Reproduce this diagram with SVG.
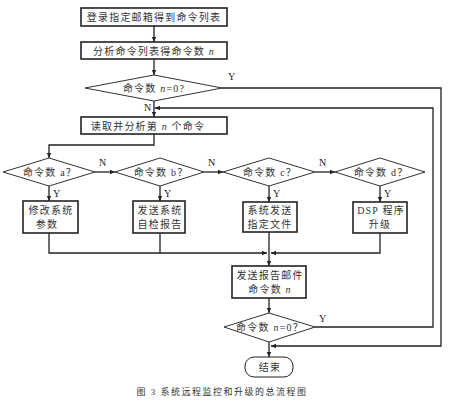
<svg xmlns="http://www.w3.org/2000/svg" width="454" height="402" viewBox="0 0 454 402">
<defs>
<marker id="ah" markerWidth="6" markerHeight="6" refX="5" refY="3" orient="auto" markerUnits="userSpaceOnUse">
<path d="M0,0.8 L5,3 L0,5.2 Z" fill="#222"/>
</marker>
<style>
.box{fill:#fff;stroke:#222;stroke-width:1.6}
.dia{fill:#fff;stroke:#333;stroke-width:1}
.ln{fill:none;stroke:#222;stroke-width:1.3}
.t{font-family:"Liberation Serif","Noto Sans CJK SC",serif;font-size:10px;fill:#333;text-anchor:middle;letter-spacing:1.2px}
.lb{font-family:"Liberation Serif",serif;font-size:10px;fill:#222}
.i{font-style:italic}
</style>
</defs>
<rect width="454" height="402" fill="#fff"/>
<g id="connectors">
<path class="ln" d="M154,26 V42" marker-end="url(#ah)"/>
<path class="ln" d="M154,59 V75" marker-end="url(#ah)"/>
<path class="ln" d="M154,101 V117" marker-end="url(#ah)"/>
<path class="ln" d="M154,134 V145 H49 V158" marker-end="url(#ah)"/>
<path class="ln" d="M95,172 H115" marker-end="url(#ah)"/>
<path class="ln" d="M204,172 H223" marker-end="url(#ah)"/>
<path class="ln" d="M315,172 H335" marker-end="url(#ah)"/>
<path class="ln" d="M49,186 V201" marker-end="url(#ah)"/>
<path class="ln" d="M160,186 V201" marker-end="url(#ah)"/>
<path class="ln" d="M269,186 V202" marker-end="url(#ah)"/>
<path class="ln" d="M380,186 V202" marker-end="url(#ah)"/>
<path class="ln" d="M49,233 V253 H267" marker-end="url(#ah)"/>
<path class="ln" d="M160,233 V253"/>
<path class="ln" d="M380,233 V253 H271" marker-end="url(#ah)"/>
<path class="ln" d="M269,232 V266" marker-end="url(#ah)"/>
<path class="ln" d="M269,298 V313" marker-end="url(#ah)"/>
<path class="ln" d="M269,342 V357" marker-end="url(#ah)"/>
<path class="ln" d="M222,88 H441 V346 H271" marker-end="url(#ah)"/>
<path class="ln" d="M315,327 H433 V108 H155" marker-end="url(#ah)"/>
<text class="lb" x="228" y="80">Y</text>
<text class="lb" x="144" y="111">N</text>
<text class="lb" x="99" y="166">N</text>
<text class="lb" x="208" y="166">N</text>
<text class="lb" x="319" y="166">N</text>
<text class="lb" x="53" y="197">Y</text>
<text class="lb" x="164" y="197">Y</text>
<text class="lb" x="273" y="197">Y</text>
<text class="lb" x="384" y="197">Y</text>
<text class="lb" x="319" y="322">Y</text>
</g>
<g id="n1"><rect class="box" x="81" y="8" width="146" height="18"/><text class="t" x="154" y="21">登录指定邮箱得到命令列表</text></g>
<g id="n2"><rect class="box" x="81" y="42" width="146" height="17"/><text class="t" x="154" y="55">分析命令列表得命令数 <tspan class="i">n</tspan></text></g>
<g id="n3"><polygon class="dia" points="85,88 154,75 222,88 154,101"/><text class="t" x="154" y="92">命令数 <tspan class="i">n</tspan>=0?</text></g>
<g id="n4"><rect class="box" x="81" y="117" width="146" height="17"/><text class="t" x="148" y="130">读取并分析第 <tspan class="i">n</tspan> 个命令</text></g>
<g id="da"><polygon class="dia" points="3,172 49,158 95,172 49,186"/><text class="t" x="50" y="176">命令数 a？</text></g>
<g id="db"><polygon class="dia" points="115,172 160,158 204,172 160,186"/><text class="t" x="161" y="176">命令数 b？</text></g>
<g id="dc"><polygon class="dia" points="223,172 269,158 315,172 269,186"/><text class="t" x="270" y="176">命令数 c？</text></g>
<g id="dd"><polygon class="dia" points="335,172 380,158 425,172 380,186"/><text class="t" x="381" y="176">命令数 d？</text></g>
<g id="ba"><rect class="box" x="23" y="201" width="55" height="32"/><text class="t" x="51" y="214">修改系统</text><text class="t" x="47" y="228">参数</text></g>
<g id="bb"><rect class="box" x="133" y="201" width="52" height="32"/><text class="t" x="160" y="214">发送系统</text><text class="t" x="160" y="228">自检报告</text></g>
<g id="bc"><rect class="box" x="243" y="202" width="54" height="30"/><text class="t" x="270" y="214">系统发送</text><text class="t" x="270" y="228">指定文件</text></g>
<g id="bd"><rect class="box" x="353" y="202" width="54" height="31"/><text class="t" x="381" y="214">DSP 程序</text><text class="t" x="380" y="228">升级</text></g>
<g id="n5"><rect class="box" x="232" y="266" width="74" height="32"/><text class="t" x="270" y="279">发送报告邮件</text><text class="t" x="270" y="293">命令数 <tspan class="i">n</tspan></text></g>
<g id="n6"><polygon class="dia" points="224,327 269,313 315,327 269,342"/><text class="t" x="270" y="331">命令数 <tspan class="i">n</tspan>=0？</text></g>
<g id="end"><rect class="box" x="245" y="357" width="48" height="20" rx="9" ry="9" style="stroke-width:1"/><text class="t" x="270" y="371">结束</text></g>
<text x="222" y="395" style="font-family:'Liberation Serif','Noto Sans CJK SC',serif;font-size:9px;fill:#333;text-anchor:middle;letter-spacing:1.5px">图 3  系统远程监控和升级的总流程图</text>
</svg>
